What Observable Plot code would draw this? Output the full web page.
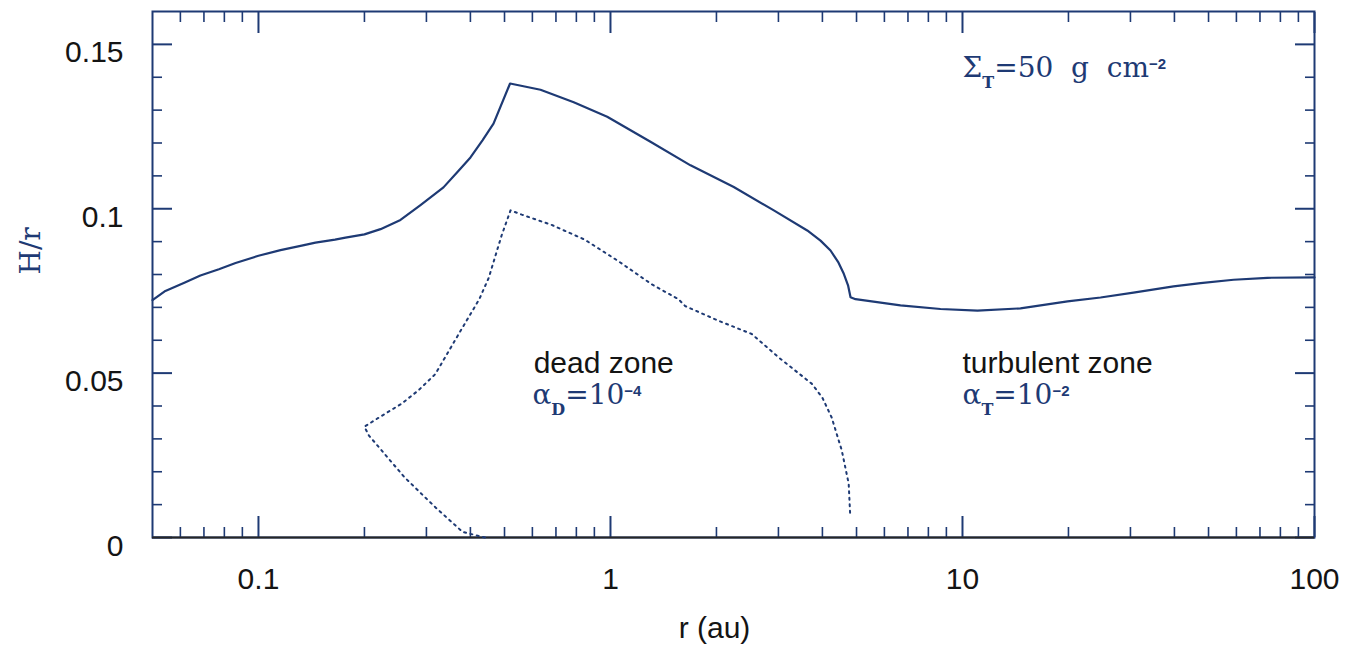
<!DOCTYPE html>
<html>
<head>
<meta charset="utf-8">
<script src="https://cdn.jsdelivr.net/npm/d3@7"></script>
<script src="https://cdn.jsdelivr.net/npm/@observablehq/plot@0.6"></script>
<style>
  html, body { margin: 0; padding: 0; background: white; }
</style>
</head>
<body>
<script>
// Disc aspect ratio H/r versus radius: surface layer (solid) and dead-zone boundary (dotted)
const surfaceR = [0.05, 0.0544, 0.0618, 0.0684, 0.0772, 0.0861, 0.1, 0.1155, 0.1327, 0.1452, 0.165, 0.1767, 0.2,
  0.2222, 0.2532, 0.2886, 0.3354, 0.3675, 0.4002, 0.4329, 0.4653, 0.5185,
  0.6326, 0.7864, 0.9788, 1.299, 1.688, 2.240, 2.911, 3.622, 3.951, 4.218, 4.445, 4.601, 4.73, 4.808,
  4.967, 6.666, 8.66, 11.03, 14.61, 19.88, 24.67, 30.6, 39.77, 47.45, 58.9, 73.5, 100];
const surfaceH = [0.0722, 0.075, 0.0776, 0.0797, 0.0816, 0.0835, 0.0857, 0.0874, 0.0888, 0.0897, 0.0906, 0.0912, 0.0922,
  0.0938, 0.0966, 0.1011, 0.1065, 0.1112, 0.1156, 0.1208, 0.1259, 0.1381,
  0.1362, 0.1324, 0.128, 0.1204, 0.1132, 0.1066, 0.0995, 0.0934, 0.0903, 0.0873, 0.0836, 0.0802, 0.0767, 0.0731,
  0.0725, 0.0706, 0.0695, 0.069, 0.0697, 0.0718, 0.073, 0.0745, 0.0764, 0.0774, 0.0784, 0.079, 0.0791];

const deadR = [0.44, 0.38, 0.318, 0.26, 0.206, 0.2, 0.22, 0.255, 0.285, 0.318, 0.371, 0.424, 0.451, 0.491, 0.52,
  0.56, 0.68, 0.845, 1.055, 1.31, 1.56, 1.63, 2.03, 2.52, 3.01, 3.73, 4.0, 4.25, 4.54, 4.75, 4.8];
const deadH = [0.0, 0.0017, 0.0092, 0.0183, 0.031, 0.0337, 0.0365, 0.0407, 0.0448, 0.0497, 0.062, 0.0725, 0.079, 0.092, 0.0995,
  0.0982, 0.0951, 0.0906, 0.084, 0.077, 0.0725, 0.0704, 0.0659, 0.0619, 0.0547, 0.0468, 0.0425, 0.0365, 0.0265, 0.0164, 0.0062];

// Axis ticks
const xMajor = [0.1, 1, 10, 100];
const xMinor = [0.06, 0.07, 0.08, 0.09, 0.2, 0.3, 0.4, 0.5, 0.6, 0.7, 0.8, 0.9,
  2, 3, 4, 5, 6, 7, 8, 9, 20, 30, 40, 50, 60, 70, 80, 90];
const yMajor = [0, 0.05, 0.1, 0.15];
const yMinor = [0.01, 0.02, 0.03, 0.04, 0.06, 0.07, 0.08, 0.09, 0.11, 0.12, 0.13, 0.14];

// Text labels
const zoneNames = ["dead zone", "turbulent zone"];
const zoneNameR = [0.605, 10];
const zoneNameH = [0.05, 0.05];

// Labels with sub- and superscripts: [text, kind]
const zoneAlphaParts = [
  [["α"], ["D", "sub"], ["=10"], ["−4", "sup"]],
  [["α"], ["T", "sub"], ["=10"], ["−2", "sup"]]
];
const zoneAlphaR = [0.60, 10];
const zoneAlphaH = [0.0405, 0.0405];
const surfaceDensityParts = [["Σ"], ["T", "sub"], ["=50  g  cm"], ["−2", "sup"]];
const surfaceDensityR = 10;
const surfaceDensityH = 0.14;

const navy = "#1e3a74";
const ink = "#141414";
const serif = "'DejaVu Serif', serif";
const sans = "'Liberation Sans', Arial, sans-serif";

const surface = surfaceR.map((r, i) => ({r, h: surfaceH[i]}));
const dead = deadR.map((r, i) => ({r, h: deadH[i]}));
const zoneNameRows = zoneNames.map((text, i) => ({text, r: zoneNameR[i], h: zoneNameH[i]}));
const plain = (parts) => parts.map((p) => p[0]).join("");
const richRows = [
  ...zoneAlphaParts.map((parts, i) => ({parts, r: zoneAlphaR[i], h: zoneAlphaH[i]})),
  {parts: surfaceDensityParts, r: surfaceDensityR, h: surfaceDensityH}
];

const chart = Plot.plot({
  width: 1352,
  height: 646,
  marginLeft: 152,
  marginRight: 38,
  marginTop: 11,
  marginBottom: 109,
  x: {type: "log", domain: [0.05, 100]},
  y: {domain: [0, 0.16]},
  style: {fontFamily: sans, fontSize: "30px", color: ink, background: "white"},
  marks: [
    // inward ticks on all four sides
    Plot.axisX(xMajor, {anchor: "bottom", tickSize: 21, dy: -21, fill: "none", stroke: navy, strokeWidth: 2}),
    Plot.axisX(xMinor, {anchor: "bottom", tickSize: 10, dy: -10, fill: "none", stroke: navy, strokeWidth: 1.6}),
    Plot.axisX(xMajor, {anchor: "top", tickSize: 21, dy: 21, fill: "none", stroke: navy, strokeWidth: 2}),
    Plot.axisX(xMinor, {anchor: "top", tickSize: 10, dy: 10, fill: "none", stroke: navy, strokeWidth: 1.6}),
    Plot.axisY(yMajor, {anchor: "left", tickSize: 20, dx: 20, fill: "none", stroke: navy, strokeWidth: 2}),
    Plot.axisY(yMinor, {anchor: "left", tickSize: 10, dx: 10, fill: "none", stroke: navy, strokeWidth: 1.6}),
    Plot.axisY(yMajor, {anchor: "right", tickSize: 20, dx: -20, fill: "none", stroke: navy, strokeWidth: 2}),
    Plot.axisY(yMinor, {anchor: "right", tickSize: 10, dx: -10, fill: "none", stroke: navy, strokeWidth: 1.6}),
    // tick labels
    Plot.axisX(xMajor, {anchor: "bottom", tickSize: 0, tickPadding: 30, label: null, tickFormat: (d) => String(d), fill: ink, fontSize: 30}),
    Plot.axisY(yMajor, {anchor: "left", tickSize: 0, tickPadding: 29, label: null, tickFormat: (d) => String(d), fill: ink, fontSize: 30, dy: 8.5}),
    Plot.frame({stroke: navy, strokeWidth: 2}),
    Plot.ruleY([0], {stroke: "#262626", strokeWidth: 2}),
    // curves
    Plot.line(surface, {x: "r", y: "h", stroke: navy, strokeWidth: 2.2, curve: "linear"}),
    Plot.line(dead, {x: "r", y: "h", stroke: navy, strokeWidth: 2, strokeDasharray: "2,4.5", curve: "linear"}),
    // annotations
    Plot.text(zoneNameRows, {x: "r", y: "h", text: "text", textAnchor: "start", lineAnchor: "bottom", fill: ink, fontSize: 30, fontFamily: sans}),
    Plot.text(richRows, {x: "r", y: "h", text: (d) => plain(d.parts), textAnchor: "start", lineAnchor: "bottom", fill: navy, fontSize: 28, fontFamily: serif}),
    // axis titles
    Plot.text(["r (au)"], {frameAnchor: "bottom", text: (d) => d, dx: -19, dy: 100, lineAnchor: "bottom", fill: ink, fontSize: 30, fontFamily: sans}),
    Plot.text(["H/r"], {frameAnchor: "left", text: (d) => d, dx: -121, rotate: -90, lineAnchor: "middle", fill: navy, fontSize: 28, fontFamily: serif})
  ]
});

// Typeset sub- and superscripts inside the rich labels
const richByText = new Map(richRows.map((d) => [plain(d.parts), d.parts]));
d3.select(chart).selectAll("text").each(function () {
  const parts = richByText.get(this.textContent);
  if (!parts) return;
  const el = d3.select(this);
  el.text(null);
  let shift = 0;
  for (const [s, kind] of parts) {
    const target = kind === "sub" ? 11 : kind === "sup" ? -8 : 0;
    const t = el.append("tspan").attr("dy", target - shift).text(s);
    if (kind) t.attr("font-size", kind === "sub" ? 16 : 15).attr("font-family", kind === "sub" ? serif : sans).attr("font-weight", "bold");
    shift = target;
  }
});

document.body.appendChild(chart);
</script>
</body>
</html>
